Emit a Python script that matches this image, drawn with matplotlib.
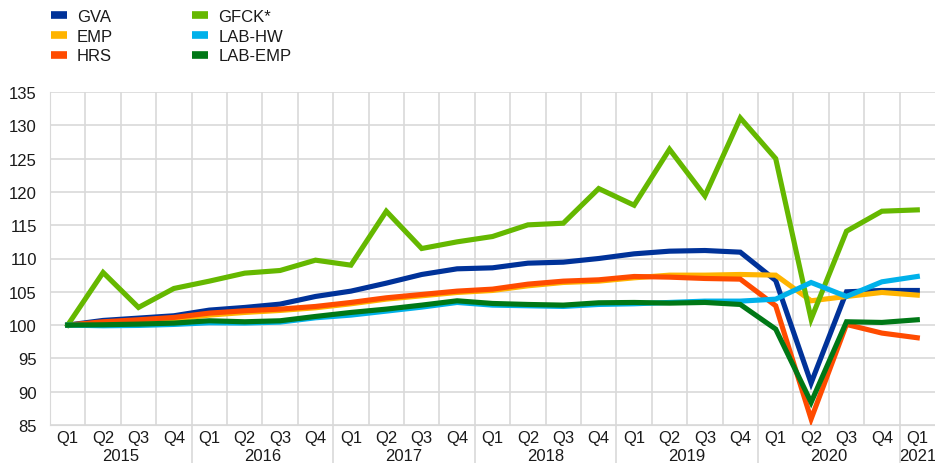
import matplotlib.pyplot as plt
from matplotlib.lines import Line2D
import matplotlib.transforms as mtransforms

plt.rcParams['font.family'] = ['Liberation Sans', 'DejaVu Sans']

# quarterly index, 2015 Q1 = 100
quarters = ['Q1', 'Q2', 'Q3', 'Q4'] * 6 + ['Q1']
years = ['2015', '2016', '2017', '2018', '2019', '2020', '2021']

gva = [100, 100.7, 101.05, 101.4, 102.25, 102.65, 103.15, 104.3,
       105.1, 106.3, 107.6, 108.45, 108.6, 109.3, 109.45, 110.0,
       110.7, 111.1, 111.2, 110.95, 106.7, 91.3, 105.0, 105.2, 105.2]
emp = [100, 100.3, 100.6, 100.9, 101.5, 101.9, 102.2, 102.6,
       103.2, 103.9, 104.4, 104.9, 105.2, 105.9, 106.4, 106.6,
       107.1, 107.5, 107.5, 107.6, 107.5, 103.65, 104.3, 104.9, 104.5]
hrs = [100, 100.5, 100.8, 101.15, 101.8, 102.15, 102.4, 102.8,
       103.4, 104.1, 104.6, 105.1, 105.4, 106.15, 106.6, 106.8,
       107.3, 107.2, 107.0, 106.9, 102.9, 85.9, 100.1, 98.8, 98.1]
gfck = [100, 107.9, 102.65, 105.5, 106.6, 107.8, 108.2, 109.75,
        109.0, 117.1, 111.5, 112.5, 113.3, 115.05, 115.3, 120.5,
        118.0, 126.4, 119.4, 131.1, 125.0, 100.9, 114.1, 117.1, 117.3]
lab_hw = [100, 99.9, 99.95, 100.1, 100.35, 100.3, 100.45, 101.1,
          101.5, 102.1, 102.7, 103.4, 103.0, 102.9, 102.8, 103.1,
          103.2, 103.4, 103.6, 103.6, 103.9, 106.4, 104.3, 106.5, 107.3]
lab_emp = [100, 100.05, 100.15, 100.3, 100.65, 100.5, 100.65, 101.3,
           101.9, 102.4, 103.0, 103.65, 103.25, 103.1, 103.0, 103.35,
           103.4, 103.3, 103.4, 103.1, 99.4, 88.4, 100.5, 100.4, 100.8]

series = [('GVA', gva, '#003299'),
          ('EMP', emp, '#FFB400'),
          ('HRS', hrs, '#FF4B00'),
          ('GFCK*', gfck, '#65B800'),
          ('LAB-HW', lab_hw, '#00B1EA'),
          ('LAB-EMP', lab_emp, '#007816')]

fig = plt.figure(figsize=(9.35, 4.64), dpi=100)
ax = fig.add_axes([50 / 935, 1 - 426 / 464, 885 / 935, 333 / 464])

x = list(range(len(quarters)))
handles = []
for name, vals, col in series:
    ax.plot(x, vals, color=col, lw=3.7, solid_joinstyle='miter', zorder=3)
    handles.append(Line2D([], [], color=col, lw=5.5, solid_capstyle='butt'))

ax.set_xlim(-0.5, len(quarters) - 0.5)
ax.set_ylim(85, 135)
ax.set_yticks(range(85, 136, 5))
ax.set_xticks(x)
ax.set_xticklabels(quarters)
ax.set_xticks([i - 0.5 for i in range(1, len(quarters))], minor=True)

ax.grid(True, which='major', axis='y', color='#d9d9d9', lw=1.2)
ax.grid(True, which='minor', axis='x', color='#d9d9d9', lw=1.2)
for s in ax.spines.values():
    s.set_visible(False)
ax.spines['left'].set_visible(True)
ax.spines['left'].set_color('#d9d9d9')
ax.spines['bottom'].set_visible(True)
ax.spines['bottom'].set_color('#d9d9d9')
ax.tick_params(which='both', length=0, labelsize=12, colors='#1a1a1a')
ax.tick_params(axis='y', pad=9.5)
ax.tick_params(axis='x', pad=3.5)
ax.set_axisbelow(True)

# year labels and separators below the axis
trans = mtransforms.blended_transform_factory(ax.transData, fig.transFigure)
for i, yr in enumerate(years):
    start = i * 4
    end = min(start + 3, len(quarters) - 1)
    ax.text((start + end) / 2, 7.5 / 464, yr, transform=trans, ha='center',
            va='center', fontsize=12, color='#1a1a1a')
    if i > 0:
        ax.add_line(Line2D([start - 0.5, start - 0.5], [0, 1 - 426 / 464],
                           transform=trans, color='#d9d9d9', lw=1.2,
                           clip_on=False))

fig.legend(handles, [s[0] for s in series], ncol=2, loc='upper left',
           bbox_to_anchor=(51 / 935, 1 - 10 / 464), frameon=False,
           fontsize=12, handlelength=0.96, handletextpad=0.6,
           columnspacing=4.75, labelspacing=0.28, borderpad=0,
           borderaxespad=0, labelcolor='#1a1a1a')

fig.savefig('out.png', dpi=100)
